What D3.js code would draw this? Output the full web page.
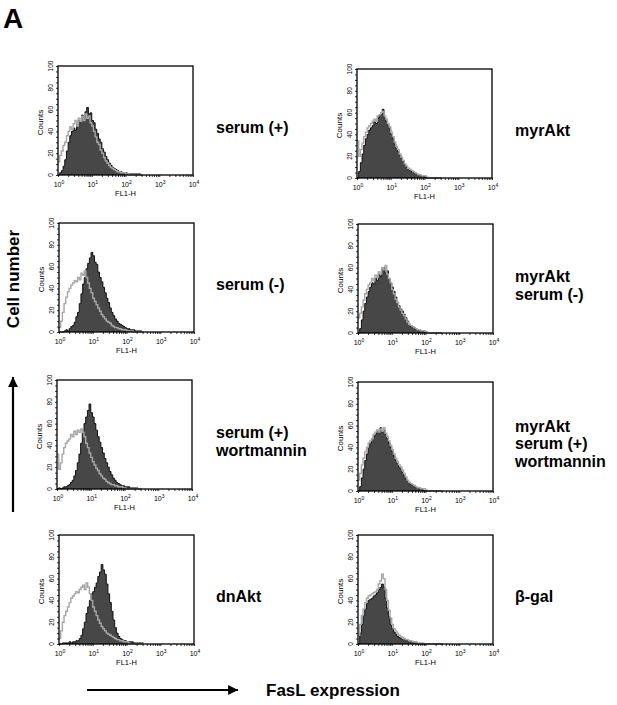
<!DOCTYPE html>
<html>
<head>
<meta charset="utf-8">
<script src="https://cdn.jsdelivr.net/npm/d3@7"></script>
<style>
  body { margin: 0; background: #fff; }
  svg { display: block; }
  text { font-family: "Liberation Sans", Arial, sans-serif; }
  .lbl { font-weight: bold; font-size: 16px; }
</style>
</head>
<body>
<svg id="fig" width="617" height="705"></svg>
<script>
// FL1-H channels, log10 of intensity, one bin every 0.05 decade (0 .. 2.5)
var channelLog = d3.range(51).map(function (i) { return +(i * 0.05).toFixed(2) })

var yTicks = [0, 20, 40, 60, 80, 100]
var xDecades = [0, 1, 2, 3, 4]

// filled histogram = treated cells, gray line = control
var serumPlus = [0,2,4,8,14,22,30,36,40,43,41,46,50,48,55,52,58,62,56,57,50,48,42,38,33,30,24,21,17,14,11,9,7,6,5,4,3,3,2,2,2,1,1,1,1,1,1,1,1,0,0]
var serumPlusCtl = [12,18,22,27,30,36,40,44,42,47,50,45,52,49,54,50,56,52,54,48,45,40,35,30,28,23,20,16,13,11,9,7,6,5,4,3,3,2,2,2,1,1,0,0,0,0,0,0,0,0,0]

var serumMinus = [0,0,0,1,2,1,3,5,6,9,14,18,26,35,44,50,58,63,68,73,70,64,62,55,50,46,41,36,31,27,22,18,15,12,10,8,7,6,5,4,3,3,2,2,2,1,1,1,1,0,0]
var serumMinusCtl = [4,10,18,26,32,37,40,43,45,47,46,50,48,54,52,56,50,45,40,36,31,28,25,22,19,16,14,12,10,9,8,6,5,4,4,3,3,2,2,2,1,1,1,1,0,0,0,0,0,0,0]

var wortmannin = [0,1,0,1,2,2,3,4,6,8,12,17,24,32,42,52,60,66,72,78,70,66,60,54,48,43,38,33,28,24,20,16,13,10,8,6,5,4,3,3,2,2,2,1,1,1,1,1,0,0,0]
var wortmanninCtl = [32,18,24,32,38,42,44,46,50,48,53,50,54,52,55,52,48,42,38,33,29,25,22,19,17,14,12,10,9,7,6,5,4,4,3,3,2,2,2,1,1,0,0,0,0,0,0,0,0,0,0]

var dnAkt = [0,0,1,1,1,1,2,1,2,2,3,3,5,8,14,20,28,34,40,46,48,52,56,62,66,73,68,64,55,46,38,30,22,15,10,7,5,4,3,3,2,2,2,2,1,1,1,1,1,1,1]
var dnAktCtl = [5,12,20,26,30,34,38,42,44,46,48,47,50,52,54,50,56,52,46,40,34,30,26,22,19,16,14,12,10,9,8,7,6,5,4,4,3,3,2,2,2,1,0,0,0,0,0,0,0,0,0]

var myrAkt = [0,6,14,22,30,36,40,44,46,48,52,50,55,57,58,63,55,52,48,45,40,36,31,27,24,21,18,15,12,10,8,7,6,5,4,3,3,2,2,2,1,0,0,0,0,0,0,0,0,0,0]
var myrAktCtl = [34,20,26,32,38,42,46,48,50,52,54,52,57,58,60,61,57,54,50,47,42,38,33,29,26,22,19,16,13,11,9,8,7,6,5,4,3,3,2,2,2,1,0,0,0,0,0,0,0,0,0]

var myrAktMinus = [0,4,12,20,27,33,38,42,46,45,50,48,54,52,58,60,55,57,50,46,42,38,33,28,25,22,20,17,14,11,8,6,5,4,3,3,2,2,2,1,1,0,0,0,0,0,0,0,0,0,0]
var myrAktMinusCtl = [14,18,24,30,36,40,44,46,50,48,53,51,56,54,60,58,62,54,50,46,40,36,31,28,24,21,18,16,13,10,8,7,6,5,4,3,3,2,2,2,1,0,0,0,0,0,0,0,0,0,0]

var myrAktWort = [0,4,12,20,28,34,40,44,48,50,52,55,53,58,54,56,52,48,44,40,36,32,28,25,22,20,17,14,11,9,7,6,5,4,3,3,2,2,1,0,0,0,0,0,0,0,0,0,0,0,0]
var myrAktWortCtl = [10,16,24,30,36,40,44,46,48,52,54,56,54,57,55,58,53,50,46,42,38,34,30,27,24,22,19,16,13,10,8,7,6,5,4,3,3,2,2,2,1,0,0,0,0,0,0,0,0,0,0]

var betaGal = [0,10,18,26,32,37,40,41,42,44,45,47,50,52,55,52,42,33,25,18,14,11,9,7,6,5,4,4,3,3,2,2,2,1,1,0,0,0,0,0,0,0,0,0,0,0,0,0,0,0,0]
var betaGalCtl = [8,18,26,32,38,42,44,45,46,47,48,50,55,58,64,60,50,40,31,24,18,14,12,10,8,7,6,5,4,4,3,3,2,2,2,1,1,1,1,0,0,0,0,0,0,0,0,0,0,0,0]

var panels = [
    {x: 58,  y: 66,  fill: serumPlus,   line: serumPlusCtl,   label: ["serum (+)"]},
    {x: 59,  y: 223, fill: serumMinus,  line: serumMinusCtl,  label: ["serum (-)"]},
    {x: 57,  y: 380, fill: wortmannin,  line: wortmanninCtl,  label: ["serum (+)", "wortmannin"]},
    {x: 59,  y: 535, fill: dnAkt,       line: dnAktCtl,       label: ["dnAkt"]},
    {x: 357, y: 69,  fill: myrAkt,      line: myrAktCtl,      label: ["myrAkt"]},
    {x: 358, y: 224, fill: myrAktMinus, line: myrAktMinusCtl, label: ["myrAkt", "serum (-)"]},
    {x: 358, y: 382, fill: myrAktWort,  line: myrAktWortCtl,  label: ["myrAkt", "serum (+)", "wortmannin"]},
    {x: 358, y: 535, fill: betaGal,     line: betaGalCtl,     label: ["\u03b2-gal"]}
]

var W = 135, H = 109
var svg = d3.select("#fig")

svg.append("text").attr("x", 3).attr("y", 28)
    .style("font-weight", "bold").style("font-size", "28px").text("A")

panels.forEach(function (p) {
    drawPanel(p)
    var lx = p.x < 200 ? 216 : 515
    var n = p.label.length
    var cy = p.y + H * 0.56
    p.label.forEach(function (s, k) {
        svg.append("text").attr("class", "lbl")
            .attr("x", lx)
            .attr("y", cy + (k - (n - 1) / 2) * 17.5 + 6)
            .text(s)
    })
})

function drawPanel(p) {
    var g = svg.append("g").attr("transform", "translate(" + p.x + "," + p.y + ")")
    var x = d3.scaleLog().domain([1, 10000]).range([0, W])
    var y = d3.scaleLinear().domain([0, 100]).range([H, 0])

    var fillArea = d3.area()
        .curve(d3.curveStepAfter)
        .x(function (d, i) { return x(Math.pow(10, channelLog[i])) })
        .y0(H)
        .y1(function (d) { return y(d) })
    var outline = d3.line()
        .curve(d3.curveStepAfter)
        .x(function (d, i) { return x(Math.pow(10, channelLog[i])) })
        .y(function (d) { return y(d) })

    g.append("path").datum(p.fill).attr("d", fillArea)
        .attr("fill", "#474747")
    g.append("path").datum(p.fill).attr("d", outline)
        .attr("fill", "none").attr("stroke", "#111").attr("stroke-width", 1)
    g.append("path").datum(p.line).attr("d", outline)
        .attr("fill", "none").attr("stroke", "#a6a6a6").attr("stroke-width", 1.4)

    g.append("rect").attr("width", W).attr("height", H)
        .attr("fill", "none").attr("stroke", "#000").attr("stroke-width", 1.3)

    // y axis with minor ticks every 5
    var yAxis = d3.axisLeft(y).tickValues(d3.range(0, 101, 5)).tickSize(2).tickFormat("")
    var ya = g.append("g").call(yAxis)
    ya.select(".domain").remove()
    ya.selectAll("line").attr("stroke-width", 0.8)
    yTicks.forEach(function (v) {
        g.append("text")
            .attr("transform", "translate(-5," + y(v) + ") rotate(-90)")
            .attr("text-anchor", "middle")
            .style("font-size", "6.5px")
            .text(v)
    })
    g.append("text")
        .attr("transform", "translate(-15," + (H / 2 + 2) + ") rotate(-90)")
        .attr("text-anchor", "middle")
        .style("font-size", "8px")
        .text("Counts")

    // x axis, log minor ticks
    var minors = []
    for (var dec = 0; dec < 4; dec++)
        for (var m = 1; m < 10; m++) minors.push(m * Math.pow(10, dec))
    minors.push(10000)
    var xAxis = d3.axisBottom(x).tickValues(minors).tickSize(2).tickFormat("")
    var xa = g.append("g").attr("transform", "translate(0," + H + ")").call(xAxis)
    xa.select(".domain").remove()
    xa.selectAll("line").attr("stroke-width", 0.8)

    xDecades.forEach(function (e) {
        var t = g.append("text")
            .attr("x", x(Math.pow(10, e)) + 1)
            .attr("y", H + 12)
            .attr("text-anchor", "middle")
            .style("font-size", "7px")
        t.append("tspan").text("10")
        t.append("tspan").attr("dy", -3).style("font-size", "5px").text(e)
    })
    g.append("text")
        .attr("x", W / 2).attr("y", H + 21)
        .attr("text-anchor", "middle")
        .style("font-size", "7.5px")
        .text("FL1-H")
}

// Cell number arrow (vertical) and label
svg.append("text")
    .attr("class", "lbl")
    .style("font-size", "17px")
    .attr("transform", "translate(19,279) rotate(-90)")
    .attr("text-anchor", "middle")
    .text("Cell number")

var defs = svg.append("defs")
defs.append("marker").attr("id", "head")
    .attr("viewBox", "0 0 10 10").attr("refX", 10).attr("refY", 5)
    .attr("markerWidth", 7).attr("markerHeight", 4.5).attr("orient", "auto")
    .attr("markerUnits", "strokeWidth")
    .append("path").attr("d", "M0,0 L10,5 L0,10 Z").attr("fill", "#000")

svg.append("line")
    .attr("x1", 13).attr("y1", 512).attr("x2", 13).attr("y2", 377)
    .attr("stroke", "#000").attr("stroke-width", 2.2)
    .attr("marker-end", "url(#head)")

svg.append("line")
    .attr("x1", 87).attr("y1", 690).attr("x2", 238).attr("y2", 690)
    .attr("stroke", "#000").attr("stroke-width", 2.2)
    .attr("marker-end", "url(#head)")

svg.append("text")
    .attr("class", "lbl")
    .style("font-size", "17px")
    .attr("x", 266).attr("y", 696)
    .text("FasL expression")
</script>
</body>
</html>
